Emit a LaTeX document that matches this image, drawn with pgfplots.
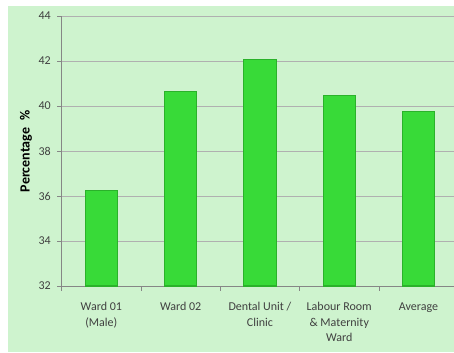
\documentclass[border=0pt]{standalone}
\usepackage{pgfplots}
\pgfplotsset{compat=1.18}
\usepackage{fontspec}
\setmainfont{Carlito}

\definecolor{chartbg}{RGB}{206,243,206}
\definecolor{barfill}{RGB}{56,218,56}
\definecolor{baredge}{RGB}{42,178,42}
\definecolor{gridgray}{RGB}{176,176,176}
\definecolor{axisgray}{RGB}{134,134,134}
\definecolor{labelgray}{RGB}{64,64,64}

\begin{document}
\begin{tikzpicture}[x=1bp,y=1bp]
  \useasboundingbox (0,0) rectangle (454,352);
  \fill[white] (0,0) rectangle (454,352);
  \fill[chartbg] (8,0) rectangle (454,346);
  \begin{axis}[
    at={(61.7bp,66bp)}, anchor=south west,
    scale only axis, width=396.5bp, height=270bp,
    xmin=-0.5, xmax=4.5, ymin=32, ymax=44,
    ytick={32,34,...,44},
    minor ytick={32,34,...,44},
    xtick={0,1,2,3,4},
    minor xtick={-0.5,0.5,1.5,2.5,3.5},
    xticklabels={{Ward 01\\(Male)},{Ward 02},{Dental Unit /\\Clinic},{Labour Room\\\& Maternity\\Ward},{Average}},
    axis x line*=bottom, axis y line*=left,
    axis line style={axisgray, line width=0.9bp},
    tick align=outside,
    major tick length=0pt, minor tick length=4.5bp,
    minor tick style={axisgray, line width=0.8bp},
    ymajorgrids, grid style={gridgray, line width=0.8bp},
    font=\fontsize{12bp}{15.5bp}\selectfont,
    /pgf/number format/assume math mode=true,
    tick label style={labelgray},
    yticklabel style={xshift=-7.5bp},
    xticklabel style={align=center, yshift=-13bp},
    ylabel={\bfseries Percentage\hspace{0.55em}\%},
    ylabel style={at={(axis description cs:-0.0902,0.5)}, anchor=center, font=\fontsize{14bp}{16bp}\selectfont, black},
    ybar, bar width=32.3bp,
  ]
    \addplot[fill=barfill, draw=baredge, line width=1.1bp] coordinates {
      (0,36.25) (1,40.65) (2,42.07) (3,40.46) (4,39.76)
    };
  \end{axis}
\end{tikzpicture}
\end{document}
